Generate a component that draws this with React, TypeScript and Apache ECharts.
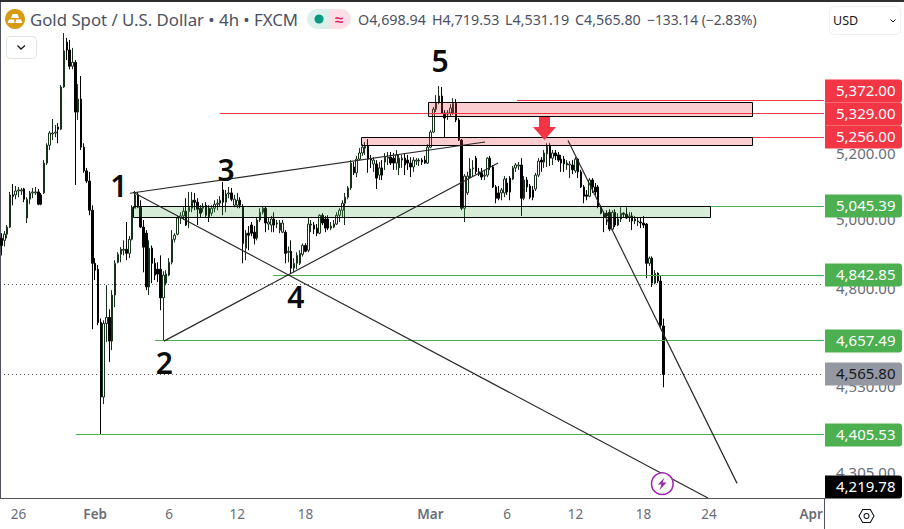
import { useEffect, useRef } from 'react'
import * as echarts from 'echarts'

const FONT = '"Noto Sans", sans-serif'
const TOTAL_BARS = 290
const DRAW_SLOTS = 291
const RED = '#f23645'
const GREEN = '#4caf50'

// x axis labels, by bar index
const timeTicks: Record<number, string> = {
  6: '26', 33: 'Feb', 59: '6', 83: '12', 107: '18', 151: 'Mar',
  178: '6', 202: '12', 226: '18', 249: '24', 285: 'Apr',
}
const categories = Array.from({ length: TOTAL_BARS }, (_, i) => timeTicks[i] ?? '')

// open, close, low, high
const candles = [
  [4950,4929,4900,4965],[4944,4962,4926,4971],[4962,4983,4950,4989],[4983,5079,4980,5088],[5079,5075,5048,5112],
  [5079,5091,5066,5106],[5091,5094,5072,5103],[5091,5094,5079,5100],[5097,5066,5057,5100],[5010,5066,4995,5072],
  [5066,5085,5051,5091],[5085,5088,5069,5100],[5085,5088,5079,5103],[5088,5051,5048,5097],[5079,5051,5048,5085],
  [5085,5176,5082,5185],[5176,5231,5170,5237],[5231,5269,5216,5275],[5266,5269,5247,5313],[5269,5272,5256,5294],
  [5288,5281,5237,5300],[5281,5415,5278,5421],[5415,5532,5412,5591],[5561,5535,5502,5575],[5535,5482,5472,5568],
  [5482,5495,5472,5542],[5495,5335,5109,5502],[5335,5376,5310,5424],[5376,5225,5216,5450],[5225,5152,5146,5237],
  [5152,5121,5115,5161],[5121,5033,5018,5149],[5033,4877,4690,5048],[4877,4857,4829,4892],[4860,4709,4701,4872],
  [4709,4505,4406,4720],[4505,4706,4486,4715],[4706,4723,4655,4814],[4723,4657,4600,4746],[4657,4786,4632,4800],
  [4786,4877,4752,4886],[4880,4903,4877,4909],[4903,4918,4880,4924],[4915,4918,4900,4944],[4918,4906,4886,4998],
  [4906,4947,4892,4956],[4947,5042,4944,5048],[5039,5079,5039,5091],[5079,5042,5039,5088],[5042,4983,4980,5063],
  [4983,4924,4851,5004],[4965,4809,4800,4974],[4809,4921,4786,4944],[4921,4877,4820,4929],[4877,4843,4829,4892],
  [4860,4846,4823,4880],[4860,4778,4743,4900],[4778,4843,4657,4854],[4820,4846,4814,4857],[4843,4880,4840,4892],
  [4880,4947,4874,4974],[4947,4959,4938,4965],[4962,5010,4959,5016],[5010,5016,4992,5027],[5016,5030,5004,5042],
  [5030,4989,4986,5069],[5030,5042,4980,5088],[5039,5063,5027,5088],[5063,5057,5033,5085],[5057,5036,4989,5069],
  [5039,5024,5010,5048],[5039,5045,5027,5054],[5048,5018,5010,5057],[5039,5013,4998,5048],[5024,5039,5016,5048],
  [5039,5051,5027,5063],[5051,5054,5033,5066],[5054,5063,5045,5075],[5094,5057,5018,5118],[5057,5082,5027,5094],
  [5082,5085,5069,5103],[5085,5066,5060,5100],[5048,5066,5042,5079],[5048,5063,5039,5085],[5063,5048,5039,5072],
  [5042,4935,4877,5051],[4921,4965,4886,4974],[4965,4959,4915,4986],[4989,4965,4956,4998],[4968,4950,4932,4986],
  [4950,5004,4944,5010],[5004,5027,4998,5039],[5027,5039,5021,5045],[5039,4995,4968,5045],[4992,4998,4974,5010],
  [4989,5007,4968,5016],[5007,4989,4968,5027],[4992,4995,4980,5004],[4974,4995,4965,5004],[4968,4995,4965,5004],
  [4968,4906,4877,4974],[4909,4912,4880,4926],[4912,4863,4846,4944],[4863,4877,4851,4892],[4877,4900,4860,4909],
  [4877,4906,4872,4915],[4903,4929,4897,4935],[4929,4912,4909,4935],[4915,4992,4909,5010],[4989,4992,4968,5004],
  [4989,4977,4962,4998],[4980,4965,4956,4992],[4965,5018,4962,5021],[5018,4995,4989,5024],[5007,4980,4968,5016],
  [5007,4980,4974,5018],[4980,4986,4974,4998],[4983,4992,4980,5004],[4992,5018,4989,5027],[5018,5033,4998,5039],
  [5033,5054,5010,5063],[5054,5072,4989,5085],[5072,5100,5066,5106],[5100,5176,5094,5185],[5164,5146,5139,5179],
  [5146,5188,5133,5198],[5188,5207,5185,5222],[5207,5225,5198,5234],[5222,5228,5201,5241],[5228,5188,5146,5250],
  [5188,5185,5161,5201],[5173,5185,5149,5194],[5173,5130,5097,5185],[5139,5161,5124,5179],[5161,5139,5124,5185],
  [5179,5194,5155,5207],[5191,5194,5170,5210],[5194,5176,5170,5210],[5191,5176,5155,5207],[5176,5201,5155,5216],
  [5161,5191,5139,5204],[5185,5191,5161,5201],[5191,5170,5139,5204],[5185,5176,5155,5201],[5176,5164,5133,5194],
  [5164,5185,5149,5194],[5182,5185,5170,5191],[5182,5185,5167,5191],[5185,5179,5170,5191],[5185,5176,5173,5198],
  [5176,5225,5173,5234],[5225,5272,5222,5278],[5272,5344,5269,5351],[5344,5366,5335,5389],[5366,5386,5360,5418],
  [5386,5332,5329,5415],[5332,5316,5256,5341],[5329,5332,5310,5341],[5332,5348,5322,5360],[5332,5363,5326,5379],
  [5363,5310,5303,5376],[5310,5247,5244,5316],[5247,5039,5033,5250],[5039,5136,4998,5142],[5085,5136,5079,5149],
  [5133,5158,5130,5191],[5158,5161,5136,5185],[5191,5149,5142,5198],[5149,5142,5136,5161],[5146,5133,5124,5161],
  [5136,5139,5124,5155],[5139,5191,5133,5194],[5191,5164,5155,5198],[5164,5103,5100,5170],[5103,5069,5054,5109],
  [5085,5069,5063,5106],[5085,5094,5063,5100],[5085,5127,5072,5136],[5115,5088,5079,5130],[5130,5088,5063,5136],
  [5127,5161,5124,5167],[5161,5170,5149,5176],[5167,5170,5155,5179],[5170,5069,5016,5191],[5069,5124,5063,5136],
  [5124,5103,5088,5133],[5106,5072,5066,5112],[5094,5072,5063,5106],[5097,5139,5091,5146],[5139,5182,5133,5191],
  [5185,5179,5149,5194],[5179,5207,5161,5216],[5204,5228,5164,5237],[5228,5191,5167,5237],[5191,5207,5170,5216],
  [5207,5198,5185,5216],[5201,5185,5179,5210],[5188,5176,5149,5201],[5188,5173,5149,5198],[5170,5176,5155,5185],
  [5170,5173,5130,5182],[5170,5155,5142,5185],[5152,5188,5146,5194],[5188,5149,5130,5191],[5149,5103,5100,5155],
  [5103,5075,5054,5109],[5079,5075,5063,5094],[5075,5124,5072,5130],[5124,5103,5085,5130],[5103,5088,5079,5115],
  [5103,5045,5039,5109],[5042,5024,5021,5048],[5024,5013,4968,5030],[5024,5016,4989,5033],[5027,4977,4971,5036],
  [4977,5027,4974,5033],[5027,4989,4983,5036],[4989,5007,4986,5024],[5007,5024,4998,5042],[5024,5021,5010,5027],
  [5021,5010,5007,5042],[5013,5016,4998,5027],[5016,5001,4974,5027],[5001,5007,4992,5016],[4998,5001,4986,5010],
  [4998,4995,4980,5010],[4995,4989,4980,5016],[4992,4877,4834,4995],[4877,4892,4869,4897],[4892,4820,4809,4897],
  [4820,4848,4817,4857],[4848,4826,4820,4851],[4826,4701,4690,4843],[4698.94,4565.8,4531.19,4719.53],
]

// from slot, from price, to slot, to price
const trendLines = [
  [45.9, 5084, 171.3, 5241],
  [47, 5087, 250, 4243],
  [57.9, 4657, 175.9, 5176],
  [200.6, 5246, 260.3, 4280],
]

// price, first slot, colour name
const levelPrices = [5372, 5329, 5256, 5045.39, 4842.85, 4657.49, 4405.53]
const levelStarts = [182.6, 77.7, 132.4, 47, 96.4, 54.7, 26.8]
const levelKinds = ['red', 'red', 'red', 'green', 'green', 'green', 'green']

const dottedPrices = [4818, 4565.8]

// from slot, to slot, high, low
const zones = [
  [151.2, 265.7, 5366, 5322],
  [127.6, 265.7, 5258, 5233],
  [47, 250.8, 5045, 5012],
]
const zoneKinds = ['red', 'red', 'green']

// slot, price, wave number
const waveSlots = [42, 58, 79.8, 104.5, 155.4]
const wavePrices = [5107, 4597, 5155, 4782, 5500]
const waveNames = ['1', '2', '3', '4', '5']

const scaleTicks = [5200, 5000, 4800, 4530, 4305]

const tagPrices = [5372, 5329, 5256, 5045.39, 4842.85, 4657.49, 4565.8, 4405.53, 4219.78]
const tagKinds = ['red', 'red', 'red', 'green', 'green', 'green', 'last', 'green', 'bottom']

const money = (v: number) => v.toLocaleString('en-US', { minimumFractionDigits: 2, maximumFractionDigits: 2 })
const crisp = (v: number) => Math.round(v) + 0.5
const kindColor = (k: string) => (k === 'red' ? RED : GREEN)

function buildOption() {
  const overlay = (data: any[], renderItem: any, z = 5) => ({
    type: 'custom',
    xAxisIndex: 1,
    yAxisIndex: 0,
    clip: false,
    silent: true,
    z,
    data,
    renderItem,
    encode: { x: 0, y: 1 },
  })

  const text = (x: number, y: number, s: string, font: string, fill: string, align = 'left') => ({
    type: 'text',
    x,
    y,
    silent: true,
    style: { text: s, font, fill, textAlign: align, textVerticalAlign: 'middle' },
  })

  return {
    animation: false,
    backgroundColor: '#ffffff',
    grid: { left: 0, right: 80, top: 2, bottom: 31, containLabel: false },
    xAxis: [
      {
        type: 'category',
        data: categories,
        boundaryGap: true,
        axisLine: { show: true, lineStyle: { color: '#50535e', width: 1 } },
        axisTick: { show: false },
        splitLine: { show: false },
        axisLabel: {
          show: true,
          interval: (i: number) => categories[i] !== '',
          margin: 9,
          fontFamily: FONT,
          fontSize: 13.5,
          color: '#6a6d78',
          formatter: (v: string) => (/[a-z]/.test(v) ? `{b|${v}}` : v),
          rich: { b: { fontFamily: FONT, fontSize: 13.5, fontWeight: 600, color: '#6a6d78' } },
        },
      },
      { type: 'value', min: 0, max: DRAW_SLOTS, show: false },
    ],
    yAxis: {
      type: 'log',
      logBase: 10,
      min: 4243,
      max: 5695,
      position: 'right',
      axisLine: { show: true, lineStyle: { color: '#50535e', width: 1 } },
      axisTick: { show: false },
      axisLabel: { show: false },
      splitLine: { show: false },
    },
    series: [
      overlay(
        dottedPrices.map((p) => [0, p]),
        (_: any, api: any) => {
          const y = crisp(api.coord([0, api.value(1)])[1])
          return {
            type: 'line',
            shape: { x1: 0, y1: y, x2: 824, y2: y },
            style: { stroke: '#555555', lineWidth: 1, lineDash: [1, 3] },
          }
        },
        1,
      ),
      {
        type: 'candlestick',
        data: candles,
        barWidth: 2,
        z: 2,
        silent: true,
        itemStyle: {
          color: '#ffffff',
          color0: '#000000',
          borderColor: '#16301a',
          borderColor0: '#000000',
          borderWidth: 1,
        },
      },
      overlay(
        levelPrices.map((p, i) => [levelStarts[i], p]),
        (params: any, api: any) => {
          const pt = api.coord([api.value(0), api.value(1)])
          return {
            type: 'rect',
            shape: { x: pt[0], y: Math.floor(pt[1]), width: 824 - pt[0], height: 1 },
            style: { fill: kindColor(levelKinds[params.dataIndex]) },
          }
        },
        3,
      ),
      overlay(
        zones.map((z) => [z[0], z[2], z[1], z[3]]),
        (params: any, api: any) => {
          const a = api.coord([api.value(0), api.value(1)])
          const b = api.coord([api.value(2), api.value(3)])
          const x = crisp(a[0])
          const y = crisp(a[1])
          const green = zoneKinds[params.dataIndex] === 'green'
          return {
            type: 'rect',
            shape: { x, y, width: crisp(b[0]) - x, height: crisp(b[1]) - y },
            style: {
              fill: green ? 'rgba(76,175,80,0.23)' : 'rgba(242,54,69,0.25)',
              stroke: '#000000',
              lineWidth: 1,
            },
          }
        },
        4,
      ),
      overlay(
        trendLines.map((l) => [l[0], l[1], l[2], l[3]]),
        (_: any, api: any) => {
          const a = api.coord([api.value(0), api.value(1)])
          const b = api.coord([api.value(2), api.value(3)])
          return {
            type: 'line',
            shape: { x1: a[0], y1: a[1], x2: b[0], y2: b[1] },
            style: { stroke: '#2a2a2a', lineWidth: 1.2 },
          }
        },
        5,
      ),
      overlay(
        waveSlots.map((s, i) => [s, wavePrices[i]]),
        (params: any, api: any) => {
          const pt = api.coord([api.value(0), api.value(1)])
          return text(pt[0], pt[1], waveNames[params.dataIndex], `600 30px ${FONT}`, '#0c0c0c', 'center')
        },
        6,
      ),
      overlay(
        scaleTicks.map((p) => [0, p]),
        (params: any, api: any) => {
          const y = api.coord([0, api.value(1)])[1]
          return text(895.5, y - 2, money(scaleTicks[params.dataIndex]), `15px ${FONT}`, '#6a6d78', 'right')
        },
        7,
      ),
      overlay(
        tagPrices.map((p) => [0, p]),
        (params: any, api: any) => {
          const kind = tagKinds[params.dataIndex]
          let y = api.coord([0, api.value(1)])[1]
          if (params.dataIndex === 0) y -= 9
          if (kind === 'bottom') y = 487
          const fill = kind === 'last' ? '#9598a1' : kind === 'bottom' ? '#000000' : kindColor(kind)
          const fg = kind === 'last' ? '#131722' : '#ffffff'
          return {
            type: 'group',
            children: [
              {
                type: 'rect',
                shape: { x: 825, y: Math.round(y) - 11.5, width: 77, height: 23, r: [0, 3, 3, 0] },
                style: { fill },
              },
              text(895.5, y - 1, money(tagPrices[params.dataIndex]), `15px ${FONT}`, fg, 'right'),
            ],
          }
        },
        8,
      ),
    ],
    graphic: [
      { type: 'rect', shape: { x: 0, y: 0, width: 904, height: 2 }, style: { fill: '#2e2e2e' }, z: 20 },
      // logo
      { type: 'circle', shape: { cx: 15, cy: 19, r: 10 }, style: { fill: '#d89a10' }, z: 20 },
      { type: 'polygon', shape: { points: [[12.5, 14], [17.5, 14], [19, 18], [11, 18]] }, style: { fill: '#ffffff' }, z: 21 },
      { type: 'polygon', shape: { points: [[9, 19.5], [14, 19.5], [14.5, 23], [7.5, 23]] }, style: { fill: '#ffffff' }, z: 21 },
      { type: 'polygon', shape: { points: [[16, 19.5], [21, 19.5], [22.5, 23], [15.5, 23]] }, style: { fill: '#ffffff' }, z: 21 },
      {
        type: 'text', x: 30, y: 19, z: 20,
        style: { text: 'Gold Spot / U.S. Dollar • 4h • FXCM', font: `16.8px ${FONT}`, fill: '#4b5263', textVerticalAlign: 'middle' },
      },
      // market status pill
      { type: 'rect', shape: { x: 307, y: 9, width: 22, height: 20, r: [10, 0, 0, 10] }, style: { fill: '#dcf0ec' }, z: 20 },
      { type: 'rect', shape: { x: 329, y: 9, width: 22, height: 20, r: [0, 10, 10, 0] }, style: { fill: '#fbdfe7' }, z: 20 },
      { type: 'circle', shape: { cx: 319, cy: 19, r: 4.5 }, style: { fill: '#089981' }, z: 21 },
      {
        type: 'text', x: 339, y: 19, z: 21,
        style: { text: '≈', font: `bold 15px ${FONT}`, fill: '#e91e63', textAlign: 'center', textVerticalAlign: 'middle' },
      },
      ...[
        [358, 'O4,698.94', 14.3], [432, 'H4,719.53', 14.3], [505, 'L4,531.19', 14.3], [575, 'C4,565.80', 14.3], [647, '−133.14 (−2.83%)', 13.8],
      ].map(([x, s, size]) => ({
        type: 'text', x, y: 19, z: 20,
        style: { text: s, font: `${size}px ${FONT}`, fill: '#4b5263', textVerticalAlign: 'middle' },
      })),
      // collapse button
      { type: 'rect', shape: { x: 6.5, y: 36.5, width: 30, height: 22, r: 4 }, style: { fill: '#ffffff', stroke: '#e0e3eb', lineWidth: 1 }, z: 20 },
      { type: 'polyline', shape: { points: [[17.5, 45.5], [21, 49], [25, 45.5]] }, style: { stroke: '#131722', lineWidth: 1.3, fill: 'none' }, z: 21 },
      // currency select
      { type: 'rect', shape: { x: 829.5, y: 6.5, width: 71, height: 28, r: 5 }, style: { fill: '#ffffff', stroke: '#eeeff2', lineWidth: 1 }, z: 20 },
      {
        type: 'text', x: 833, y: 20.5, z: 21,
        style: { text: 'USD', font: `12.5px ${FONT}`, fill: '#131722', textVerticalAlign: 'middle' },
      },
      { type: 'polyline', shape: { points: [[890.5, 19.5], [893, 22], [895.5, 19.5]] }, style: { stroke: '#131722', lineWidth: 1, fill: 'none' }, z: 21 },
      // red arrow
      {
        type: 'polygon', z: 9,
        shape: { points: [[539, 117], [550, 117], [550, 127], [556, 127], [544.5, 140], [533, 127], [539, 127]] },
        style: { fill: RED },
      },
      // alert circle
      { type: 'circle', shape: { cx: 662.3, cy: 483.7, r: 10.8 }, style: { fill: '#ffffff', stroke: '#9c27b0', lineWidth: 1.5 }, z: 9 },
      {
        type: 'polygon', z: 10,
        shape: { points: [[664.5, 477.5], [658, 484.5], [661.5, 484.5], [659.5, 490], [666.5, 482.5], [662.5, 482.5]] },
        style: { fill: '#9c27b0' },
      },
      // settings hexagon
      {
        type: 'polygon', z: 20,
        shape: { points: [[859, 516], [862.7, 509.5], [870.3, 509.5], [874, 516], [870.3, 522.5], [862.7, 522.5]] },
        style: { fill: 'none', stroke: '#131722', lineWidth: 1.1 },
      },
      { type: 'circle', shape: { cx: 866.5, cy: 516, r: 2.5 }, style: { fill: 'none', stroke: '#131722', lineWidth: 1.1 }, z: 20 },
      // axis line down the price scale strip
      { type: 'line', shape: { x1: 824.5, y1: 498, x2: 824.5, y2: 529 }, style: { stroke: '#50535e', lineWidth: 1 }, z: 20 },
    ],
  }
}

export default function App() {
  const chartRef = useRef<HTMLDivElement>(null)

  useEffect(() => {
    if (!chartRef.current) return
    document.body.style.margin = '0'
    const chart = echarts.init(chartRef.current, undefined, { renderer: 'svg' })
    chart.setOption(buildOption() as any)
    return () => {
      chart.dispose()
    }
  }, [])

  return <div ref={chartRef} style={{ width: '904px', height: '529px' }} />
}
